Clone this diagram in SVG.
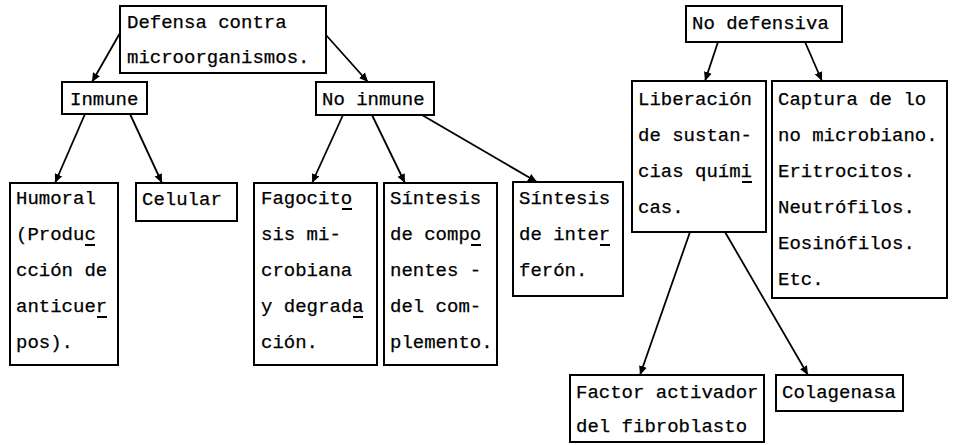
<svg xmlns="http://www.w3.org/2000/svg" width="953" height="445" viewBox="0 0 953 445">
<defs>
<marker id="ah" markerUnits="userSpaceOnUse" markerWidth="10" markerHeight="10" refX="9" refY="4.5" orient="auto">
<path d="M0,0.5 L9,4.5 L0,8.5 z" fill="#000"/>
</marker>
<style>
rect.box{fill:#fff;stroke:#000;stroke-width:2}
text{font-family:"Liberation Mono","DejaVu Sans Mono",monospace;font-size:19px;fill:#000;stroke:#000;stroke-width:0.25}
.edge{stroke:#000;stroke-width:1.8;fill:none;marker-end:url(#ah)}
.ul{stroke:#000;stroke-width:2}
</style>
</defs>
<rect width="953" height="445" fill="#fff"/>
<g id="connectors">
<line class="edge" x1="120" y1="33" x2="92" y2="82"/>
<line class="edge" x1="326" y1="35" x2="368" y2="82"/>
<line class="edge" x1="85" y1="114" x2="55" y2="183"/>
<line class="edge" x1="130" y1="114" x2="162" y2="183"/>
<line class="edge" x1="343" y1="115" x2="312" y2="183"/>
<line class="edge" x1="372" y1="115" x2="405" y2="183"/>
<line class="edge" x1="422" y1="115" x2="537" y2="182"/>
<line class="edge" x1="718" y1="42" x2="705" y2="81"/>
<line class="edge" x1="805" y1="42" x2="822" y2="81"/>
<line class="edge" x1="690" y1="232" x2="640" y2="375"/>
<line class="edge" x1="725" y1="232" x2="808" y2="375"/>
</g>
<g id="defensa">
<rect class="box" x="120" y="6" width="206" height="67"/>
<text x="127" y="28">Defensa contra</text>
<text x="127" y="63">microorganismos.</text>
</g>
<g id="inmune">
<rect class="box" x="62" y="82" width="85" height="32"/>
<text x="70" y="105">Inmune</text>
</g>
<g id="no-inmune">
<rect class="box" x="316" y="82" width="118" height="33"/>
<text x="322" y="105">No inmune</text>
</g>
<g id="humoral">
<rect class="box" x="10" y="183" width="108" height="182"/>
<text x="16" y="204">Humoral</text>
<text x="16" y="240">(Produc</text>
<text x="16" y="276">cción de</text>
<text x="16" y="312">anticuer</text>
<text x="16" y="348">pos).</text>
<line class="ul" x1="85" y1="245" x2="95" y2="245"/>
<line class="ul" x1="97" y1="317" x2="107" y2="317"/>
</g>
<g id="celular">
<rect class="box" x="136" y="183" width="101" height="38"/>
<text x="142" y="205">Celular</text>
</g>
<g id="fagocitosis">
<rect class="box" x="254" y="183" width="123" height="182"/>
<text x="261" y="204">Fagocito</text>
<text x="261" y="240">sis mi-</text>
<text x="261" y="276">crobiana</text>
<text x="261" y="312">y degrada</text>
<text x="261" y="348">ción.</text>
<line class="ul" x1="342" y1="209" x2="352" y2="209"/>
<line class="ul" x1="353" y1="317" x2="363" y2="317"/>
</g>
<g id="sintesis-complemento">
<rect class="box" x="384" y="183" width="113" height="182"/>
<text x="390" y="204">Síntesis</text>
<text x="390" y="240">de compo</text>
<text x="390" y="276">nentes -</text>
<text x="390" y="312">del com-</text>
<text x="390" y="348">plemento.</text>
<line class="ul" x1="471" y1="245" x2="481" y2="245"/>
</g>
<g id="sintesis-interferon">
<rect class="box" x="513" y="182" width="110" height="114"/>
<text x="519" y="204">Síntesis</text>
<text x="519" y="240">de inter</text>
<text x="519" y="276">ferón.</text>
<line class="ul" x1="600" y1="245" x2="610" y2="245"/>
</g>
<g id="no-defensiva">
<rect class="box" x="686" y="6" width="156" height="36"/>
<text x="692" y="29">No defensiva</text>
</g>
<g id="liberacion">
<rect class="box" x="632" y="81" width="134" height="151"/>
<text x="638" y="105">Liberación</text>
<text x="638" y="141">de sustan-</text>
<text x="638" y="177">cias quími</text>
<text x="638" y="213">cas.</text>
<line class="ul" x1="742" y1="182" x2="752" y2="182"/>
</g>
<g id="captura">
<rect class="box" x="772" y="81" width="175" height="217"/>
<text x="778" y="105">Captura de lo</text>
<text x="778" y="141">no microbiano.</text>
<text x="778" y="177">Eritrocitos.</text>
<text x="778" y="213">Neutrófilos.</text>
<text x="778" y="249">Eosinófilos.</text>
<text x="778" y="285">Etc.</text>
</g>
<g id="factor">
<rect class="box" x="570" y="375" width="194" height="67"/>
<text x="576" y="398">Factor activador</text>
<text x="576" y="432">del fibroblasto</text>
</g>
<g id="colagenasa">
<rect class="box" x="776" y="375" width="127" height="36"/>
<text x="782" y="398">Colagenasa</text>
</g>
</svg>
